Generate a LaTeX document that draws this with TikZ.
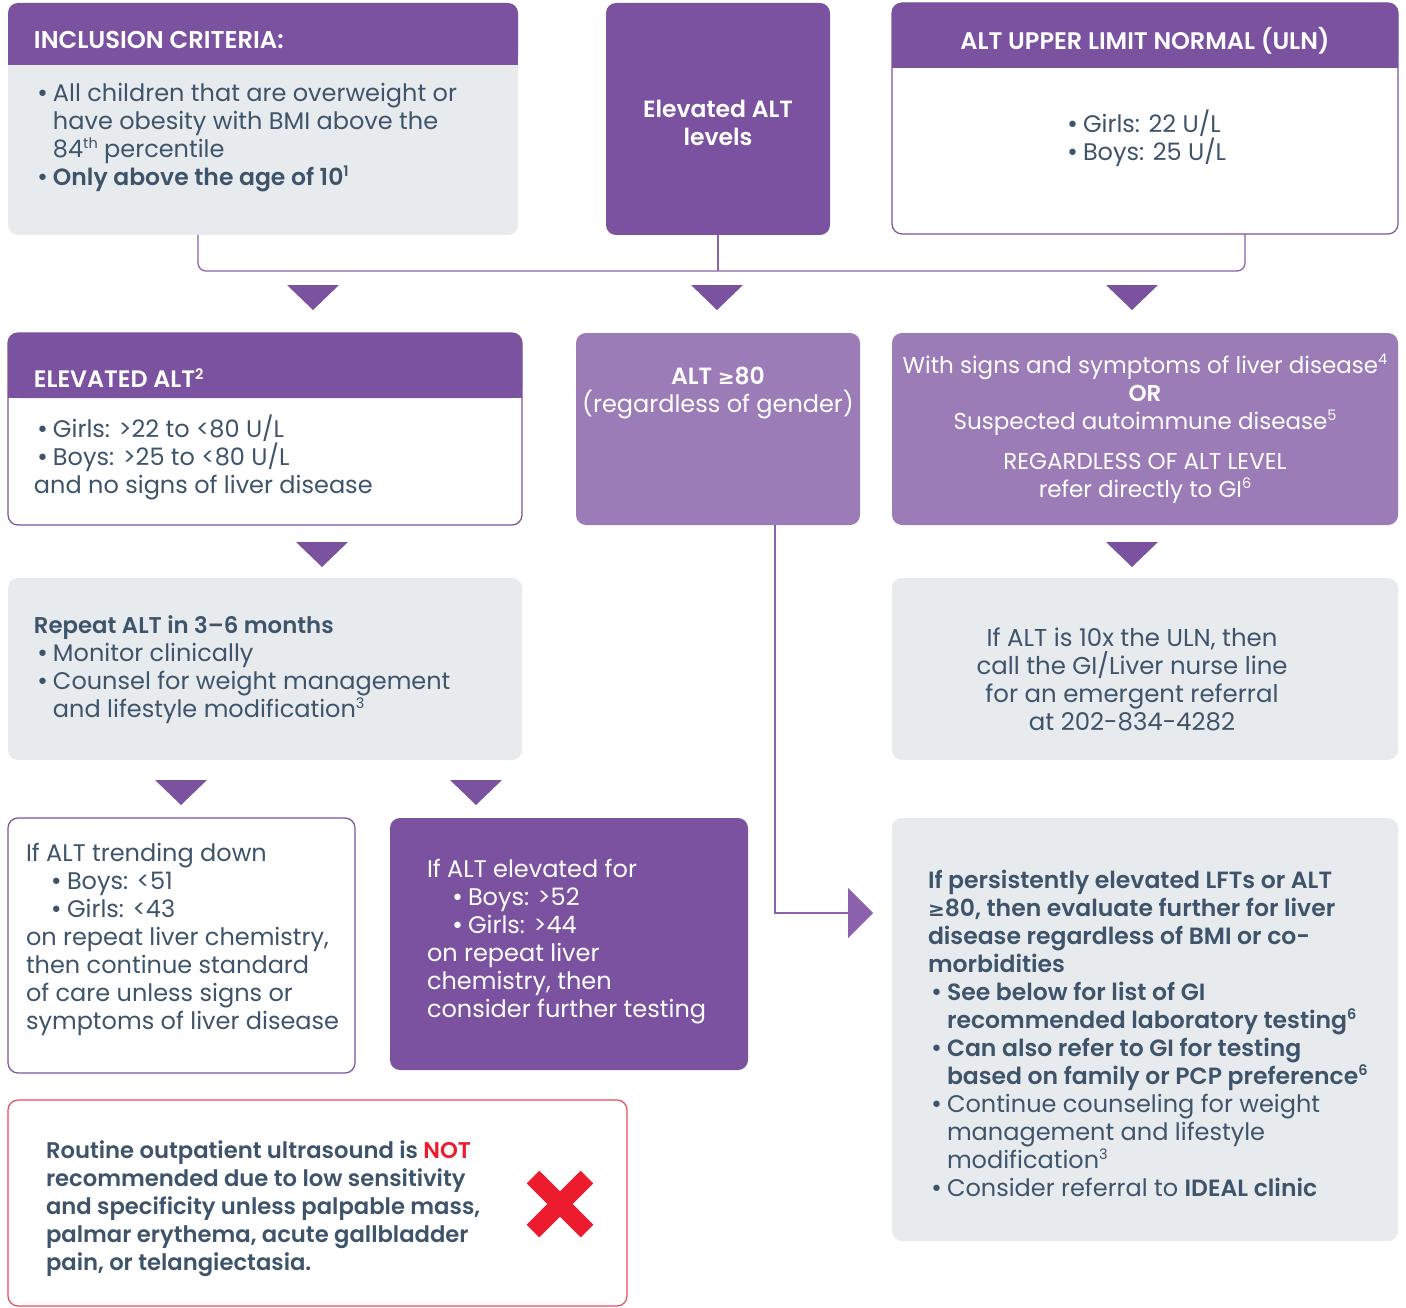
\documentclass[tikz,border=0pt]{standalone}
\usepackage{fontspec}
\setmainfont{Poppins}[BoldFont={Poppins SemiBold}]
\newfontfamily\symf{DejaVu Sans}
\usetikzlibrary{arrows.meta}
\definecolor{pdark}{HTML}{7B52A0}
\definecolor{plight}{HTML}{9B7CB7}
\definecolor{gbg}{HTML}{E8EBEE}
\definecolor{tcol}{HTML}{3E546B}
\definecolor{xred}{HTML}{EC1C2E}
\definecolor{lcol}{HTML}{8A62AE}
\newcommand\bl{\makebox[17pt][l]{{\symf\fontsize{22}{28}\selectfont •}}}
\newcommand\ind{\hspace*{17pt}}
\newcommand\gesym{{\symf\fontsize{20}{28}\selectfont ≥}}
\newcommand\sups[1]{\raisebox{8.5pt}{\fontsize{14.5}{14}\selectfont #1}}
\newcommand\bt[2][23.5]{{\fontsize{#1}{28}\selectfont\bfseries #2}}
\tikzset{
  box/.style={anchor=north west, inner sep=0pt, outer sep=0pt, rounded corners=10pt},
  gbox/.style={box, fill=gbg},
  wbox/.style={box, fill=white, draw=pdark, line width=1.2pt},
  dbox/.style={box, fill=pdark},
  lbox/.style={box, fill=plight},
  txt/.style={inner sep=0pt, outer sep=0pt, font=\fontsize{24}{28}\selectfont, text=tcol, align=left},
  wtxt/.style={txt, text=white},
  conn/.style={draw=lcol, line width=1.3pt},
}
\newcommand\dtri[2]{\fill[pdark] (#1-26,#2) -- (#1+26,#2) -- (#1,#2+25) -- cycle;}
\begin{document}
\begin{tikzpicture}[x=1pt,y=-1pt]
\useasboundingbox[fill=white] (0,0) rectangle (1406,1308);
% row 1
\node[gbox, minimum width=510pt, minimum height=232pt] (incl) at (8,3) {};
\fill[pdark, rounded corners=10pt] (8,3) rectangle (518,65);
\fill[pdark] (8,40) rectangle (518,65);
\node[dbox, minimum width=224pt, minimum height=232pt] (elev) at (606,3) {};
\node[wbox, minimum width=506pt, minimum height=231pt] (uln) at (892,3) {};
\fill[pdark, rounded corners=10pt] (892,3) rectangle (1398,68);
\fill[pdark] (892,40) rectangle (1398,68);

\node[wtxt, anchor=west] (inclh) at (34,40) {\bt[24.3]{INCLUSION CRITERIA:}};
\node[txt, anchor=west] (inclt) at (36,137.5) {\bl All children that are overweight or\\
\ind have obesity with BMI above the\\
\ind 84\sups{th} percentile\\
\bl\bt{Only above the age of 10\sups{1}}};
\node[wtxt, align=center] (elevt) at (718,122.5) {\bt{Elevated ALT}\\\bt{levels}};
\node[wtxt] (ulnh) at (1145,41) {\bt[24]{ALT UPPER LIMIT NORMAL (ULN)}};
\node[txt, anchor=west] (ulnt) at (1066,138) {\bl Girls: 22 U/L\\\bl Boys: 25 U/L};

% bus connector
\coordinate (busL) at (198,271);
\coordinate (busR) at (1245,271);
\draw[conn, rounded corners=8pt] ([xshift=190pt]incl.south west) -- (busL) -- (busR) -- ([xshift=353pt]uln.south west);
\draw[conn] (elev.south) -- (elev.south |- busL);
\dtri{313}{285}
\dtri{717}{285}
\dtri{1132}{285}

% row 2
\node[wbox, minimum width=514pt, minimum height=192pt] (ealt) at (8,333) {};
\fill[pdark, rounded corners=10pt] (8,333) rectangle (522,398);
\fill[pdark] (8,370) rectangle (522,398);
\node[lbox, minimum width=284pt, minimum height=192pt] (alt80) at (576,333) {};
\node[lbox, minimum width=506pt, minimum height=192pt] (signs) at (892,333) {};

\node[wtxt, anchor=west] (ealth) at (34,378) {\bt[23.8]{ELEVATED ALT\sups{2}}};
\node[txt, anchor=west] (ealtt) at (36,457) {\bl Girls: >22 to <80 U/L\\\bl Boys: >25 to <80 U/L\\\hspace*{-2pt}and no signs of liver disease};
\node[wtxt, align=center] (alt80t) at (718,393.5) {\bt{ALT \gesym80}\\(regardless of gender)};
\node[wtxt, align=center, font=\fontsize{23}{28}\selectfont] (signst) at (1145,429) {With signs and symptoms of liver disease\sups{4}\\
\bt[23]{OR}\\
Suspected autoimmune disease\sups{5}\\[12pt]
REGARDLESS OF ALT LEVEL\\
refer directly to GI\sups{6}};
\dtri{322}{542}
\dtri{1132}{542}

% row 3
\node[gbox, minimum width=514pt, minimum height=182pt] (rep) at (8,578) {};
\node[gbox, minimum width=506pt, minimum height=182pt] (ten) at (892,578) {};
\node[txt, anchor=west] (rept) at (34,669.5) {\bt[22.8]{Repeat ALT in 3–6 months}\\
\hspace*{2pt}\bl Monitor clinically\\
\hspace*{2pt}\bl Counsel for weight management\\
\hspace*{2pt}\ind and lifestyle modification\sups{3}};
\node[txt, align=center, font=\fontsize{24.4}{28}\selectfont] (tent) at (1132,679.5) {If ALT is 10x the ULN, then\\call the GI/Liver nurse line\\for an emergent referral\\at 202-834-4282};
\dtri{181}{780}
\dtri{476}{780}

% row 4
\node[wbox, minimum width=347pt, minimum height=255pt] (down) at (8,818) {};
\node[dbox, minimum width=358pt, minimum height=252pt] (up) at (390,818) {};
\node[gbox, minimum width=506pt, minimum height=423pt] (pers) at (892,818) {};
\node[txt, anchor=west] (downt) at (26,939) {If ALT trending down\\
\hspace*{24pt}\bl Boys: <51\\
\hspace*{24pt}\bl Girls: <43\\
on repeat liver chemistry,\\
then continue standard\\
of care unless signs or\\
symptoms of liver disease};
\node[wtxt, anchor=west] (upt) at (427,942) {If ALT elevated for\\
\hspace*{24pt}\bl Boys: >52\\
\hspace*{24pt}\bl Girls: >44\\
on repeat liver\\
chemistry, then\\
consider further testing};
\node[txt, anchor=west] (perst) at (928,1033) {\bt{If persistently elevated LFTs or ALT}\\
\bt{\gesym80, then evaluate further for liver}\\
\bt{disease regardless of BMI or co-}\\
\bt{morbidities}\\
\hspace*{2pt}\bl\bt{See below for list of GI}\\
\hspace*{2pt}\ind\bt{recommended laboratory testing\sups{6}}\\
\hspace*{2pt}\bl\bt{Can also refer to GI for testing}\\
\hspace*{2pt}\ind\bt{based on family or PCP preference\sups{6}}\\
\hspace*{2pt}\bl Continue counseling for weight\\
\hspace*{2pt}\ind management and lifestyle\\
\hspace*{2pt}\ind modification\sups{3}\\
\hspace*{2pt}\bl Consider referral to \bt{IDEAL clinic}};

\coordinate (arrtip) at (873,913);
\draw[conn, -{Triangle[length=25pt,width=50pt]}] ([xshift=199pt]alt80.south west) |- (arrtip);

% ultrasound box
\node[box, fill=white, draw=xred!80, line width=1.2pt, minimum width=619pt, minimum height=206pt] (us) at (8,1100) {};
\node[txt, anchor=west] (ust) at (46,1208.5) {\bt[22.7]{Routine outpatient ultrasound is \textcolor{xred}{NOT}}\\
\bt[22.7]{recommended due to low sensitivity}\\
\bt[22.7]{and specificity unless palpable mass,}\\
\bt[22.7]{palmar erythema, acute gallbladder}\\
\bt[22.7]{pain, or telangiectasia.}};
\draw[xred, line width=18pt] (533,1177) -- (587,1231) (587,1177) -- (533,1231);
\end{tikzpicture}
\end{document}
